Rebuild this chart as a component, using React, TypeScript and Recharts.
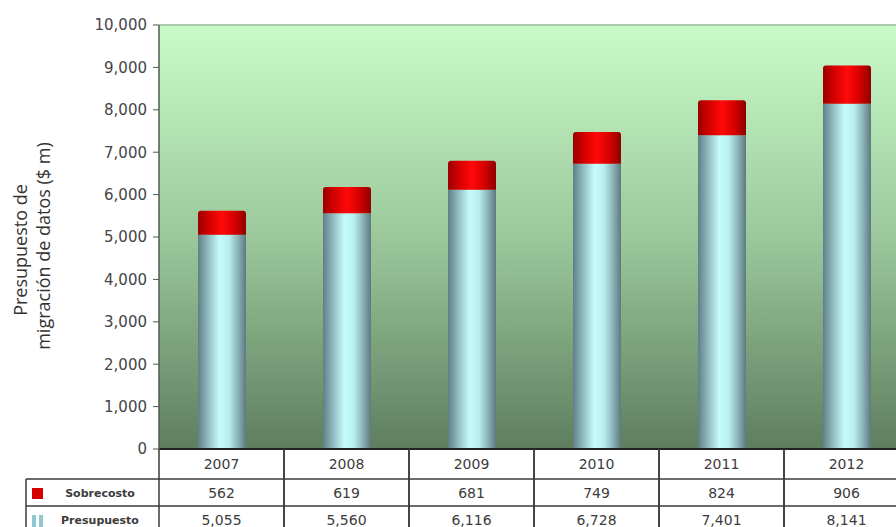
import { BarChart, Bar, XAxis, YAxis, CartesianGrid, ReferenceLine } from "recharts";

const years = ["2007", "2008", "2009", "2010", "2011", "2012"];
const presupuesto = [5055, 5560, 6116, 6728, 7401, 8141];
const sobrecosto = [562, 619, 681, 749, 824, 906];
const yTicks = [0, 1000, 2000, 3000, 4000, 5000, 6000, 7000, 8000, 9000, 10000];

const data = years.map((year, i) => ({
  year,
  presupuesto: presupuesto[i],
  sobrecosto: sobrecosto[i],
}));

const CHART_W = 914;
const CHART_H = 527;
const X_AXIS_H = 78;
const MARGIN = { top: 25, right: 5, left: 99, bottom: 0 };
const Y_AXIS_W = 60;
const PLOT_LEFT = MARGIN.left + Y_AXIS_W;
const PLOT_W = CHART_W - PLOT_LEFT - MARGIN.right;
const PLOT_BOTTOM = CHART_H - X_AXIS_H;
const BAND = PLOT_W / years.length;

const LINE = "#3a3a3a";
const TXT = "#3c3c3c";
const ROW1 = PLOT_BOTTOM + 30;
const ROW2 = ROW1 + 27;
const ROW3 = ROW2 + 27;
const LEGEND_LEFT = 26;

const fmt = (v: number) => v.toLocaleString("en-US");

const TableTick = (props: any) => {
  const { x, index, payload } = props;
  const left = x - BAND / 2;
  const right = x + BAND / 2;
  const cellText = (value: string, y0: number, y1: number) => (
    <text
      x={x}
      y={(y0 + y1) / 2}
      textAnchor="middle"
      dominantBaseline="central"
      fontFamily="DejaVu Sans, Verdana, sans-serif"
      fontSize={14}
      fill={TXT}
    >
      {value}
    </text>
  );
  return (
    <g>
      <line x1={left} y1={PLOT_BOTTOM} x2={left} y2={ROW3} stroke={LINE} strokeWidth={1.5} />
      <line x1={right} y1={PLOT_BOTTOM} x2={right} y2={ROW3} stroke={LINE} strokeWidth={1.5} />
      <line x1={left} y1={ROW1} x2={right} y2={ROW1} stroke={LINE} strokeWidth={1.5} />
      <line x1={left} y1={ROW2} x2={right} y2={ROW2} stroke={LINE} strokeWidth={1.5} />
      {cellText(payload.value, PLOT_BOTTOM, ROW1)}
      {cellText(fmt(sobrecosto[index]), ROW1, ROW2)}
      {cellText(fmt(presupuesto[index]), ROW2, ROW3)}
      {index === 0 && (
        <g>
          <line x1={LEGEND_LEFT} y1={ROW1} x2={left} y2={ROW1} stroke={LINE} strokeWidth={1.5} />
          <line x1={LEGEND_LEFT} y1={ROW2} x2={left} y2={ROW2} stroke={LINE} strokeWidth={1.5} />
          <line x1={LEGEND_LEFT} y1={ROW1} x2={LEGEND_LEFT} y2={ROW3} stroke={LINE} strokeWidth={1.5} />
          <rect x={32} y={ROW1 + 9} width={11} height={11} fill="#d40000" />
          <rect x={32} y={ROW2 + 9} width={4} height={12} fill="#8fc8d0" />
          <rect x={39} y={ROW2 + 9} width={4} height={12} fill="#8fc8d0" />
          <text
            x={100}
            y={(ROW1 + ROW2) / 2 + 1}
            textAnchor="middle"
            dominantBaseline="central"
            fontFamily="DejaVu Sans, Verdana, sans-serif"
            fontSize={11}
            fontWeight="bold"
            fill={TXT}
          >
            Sobrecosto
          </text>
          <text
            x={100}
            y={(ROW2 + ROW3) / 2 + 1}
            textAnchor="middle"
            dominantBaseline="central"
            fontFamily="DejaVu Sans, Verdana, sans-serif"
            fontSize={11}
            fontWeight="bold"
            fill={TXT}
          >
            Presupuesto
          </text>
        </g>
      )}
    </g>
  );
};

const YLabel = () => (
  <g fontFamily="Open Sans, sans-serif" fontSize={18} fill="#333">
    <text transform="translate(20,250) rotate(-90)" textAnchor="middle" dominantBaseline="central">
      Presupuesto de
    </text>
    <text transform="translate(43,246) rotate(-90)" textAnchor="middle" dominantBaseline="central">
      migración de datos ($ m)
    </text>
  </g>
);

export default function App() {
  return (
    <div
      style={{
        position: "fixed",
        left: 0,
        top: 0,
        width: 896,
        height: 527,
        overflow: "hidden",
        background: "#fff",
      }}
    >
      <BarChart width={CHART_W} height={CHART_H} data={data} margin={MARGIN} barSize={48}>
        <defs>
          <linearGradient id="bg" x1="0" y1="0" x2="0" y2="1">
            <stop offset="0%" stopColor="#c9fbc9" />
            <stop offset="50%" stopColor="#9cc89c" />
            <stop offset="100%" stopColor="#5e7e5e" />
          </linearGradient>
          <linearGradient id="cyl" x1="0" y1="0" x2="1" y2="0">
            <stop offset="0%" stopColor="#5f7f86" />
            <stop offset="20%" stopColor="#8fb8be" />
            <stop offset="45%" stopColor="#c6fbfb" />
            <stop offset="65%" stopColor="#b8eef0" />
            <stop offset="88%" stopColor="#7fa2a8" />
            <stop offset="100%" stopColor="#5c7a80" />
          </linearGradient>
          <linearGradient id="red" x1="0" y1="0" x2="1" y2="0">
            <stop offset="0%" stopColor="#9a0000" />
            <stop offset="25%" stopColor="#d80000" />
            <stop offset="50%" stopColor="#ff0a0a" />
            <stop offset="75%" stopColor="#d80000" />
            <stop offset="100%" stopColor="#8e0000" />
          </linearGradient>
        </defs>
        <CartesianGrid fill="url(#bg)" horizontal={false} vertical={false} stroke="none" />
        <ReferenceLine y={10000} stroke="#9ab89a" strokeWidth={1.5} />
        <XAxis
          dataKey="year"
          axisLine={{ stroke: "#222", strokeWidth: 2 }}
          tickLine={false}
          tick={<TableTick />}
          interval={0}
          height={X_AXIS_H}
        />
        <YAxis
          width={Y_AXIS_W}
          domain={[0, 10000]}
          ticks={yTicks}
          tickFormatter={fmt}
          axisLine={{ stroke: "#4e5e4e", strokeWidth: 1.5 }}
          tickLine={{ stroke: "#555" }}
          tickSize={6}
          tickMargin={6}
          tick={{ fontSize: 15, fill: "#444", fontFamily: "DejaVu Sans, Verdana, sans-serif" }}
          label={<YLabel />}
        />
        <Bar dataKey="presupuesto" name="Presupuesto" stackId="a" fill="url(#cyl)" isAnimationActive={false} />
        <Bar
          dataKey="sobrecosto"
          name="Sobrecosto"
          stackId="a"
          fill="url(#red)"
          radius={[3, 3, 0, 0]}
          isAnimationActive={false}
        />
      </BarChart>
    </div>
  );
}
